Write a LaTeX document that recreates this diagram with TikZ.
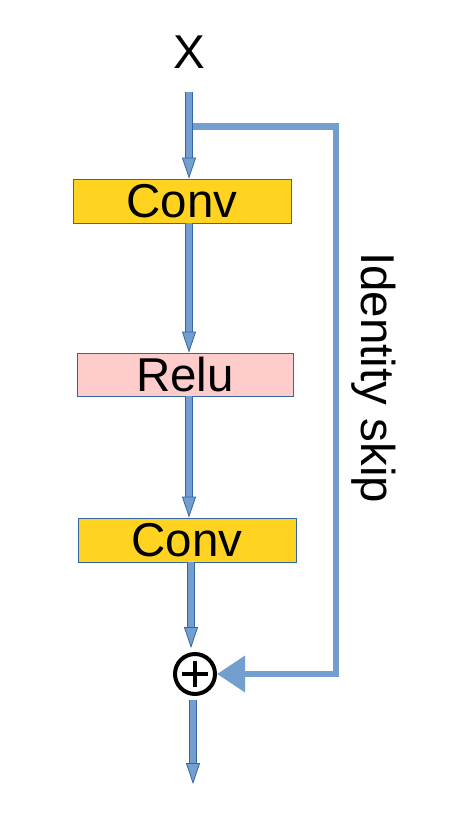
\documentclass[tikz,border=0pt]{standalone}
\usepackage{fontspec}
\setmainfont{Liberation Sans}
\usetikzlibrary{arrows.meta}
\definecolor{arrowfill}{HTML}{729FCF}
\definecolor{arrowedge}{HTML}{3465A4}
\definecolor{convfill}{HTML}{FFD320}
\definecolor{relufill}{HTML}{FFCCCC}
\newcommand{\bigfont}{\fontsize{47.5}{52}\selectfont}
\tikzset{
  layer/.style={draw=arrowedge, line width=0.8pt, minimum width=218pt,
    minimum height=44pt, inner sep=0pt, font=\bigfont},
  flow/.style={draw=arrowfill, line width=6pt,
    preaction={draw=arrowedge, line width=7.5pt, -, shorten >=20pt},
    -{Triangle[width=14pt,length=21pt,fill=arrowfill,color=arrowedge,line width=0.8pt]}},
  skip/.style={draw=arrowfill, line width=6.5pt,
    -{Triangle[width=35pt,length=28pt]}},
}
\begin{document}
\begin{tikzpicture}[x=1pt,y=-1pt]
  % page
  \fill[white] (0,0) rectangle (450,819);
  \useasboundingbox (0,0) rectangle (450,819);

  % input and layers
  \node (input) [anchor=base, inner sep=0pt, font=\bigfont] at (189,68) {X};
  \coordinate (split) at (189,126.5);
  \coordinate (corner) at (336,126.5);
  \node (conv1) [layer, fill=convfill] at (182,201) {Conv};
  \node (relu) [layer, fill=relufill, minimum width=216pt, minimum height=43pt] at (185,374.5) {Relu};
  \node (conv2) [layer, fill=convfill] at (187,540) {Conv};

  % sum
  \node (sum) [circle, draw, line width=4pt, minimum size=40pt, inner sep=0pt,
    path picture={
      \draw[line width=4pt] ([xshift=-13pt]path picture bounding box.center) -- ([xshift=13pt]path picture bounding box.center);
      \draw[line width=4pt] ([yshift=-13pt]path picture bounding box.center) -- ([yshift=13pt]path picture bounding box.center);
    }] at (195,674) {};
  \coordinate (output) at (193,784);

  % label of the skip
  \node (skiplabel) [anchor=base west, rotate=-90, inner sep=0pt, font=\bigfont] at (361,252) {Identity skip};

  % identity skip
  \draw[skip] (split) -- (corner) |- (sum.east);

  % main path
  \draw[flow, shorten <=24pt] (input.south -| split) -- (conv1.north -| split);
  \draw[flow] (conv1.south -| split) -- (relu.north -| split);
  \draw[flow] (relu.south -| split) -- (conv2.north -| split);
  \draw[flow, shorten >=4pt] ([xshift=4pt]conv2.south) -- ([xshift=-4pt]sum.north);
  \draw[flow, shorten <=4pt] ([xshift=-2pt]sum.south) -- (output);
\end{tikzpicture}
\end{document}
